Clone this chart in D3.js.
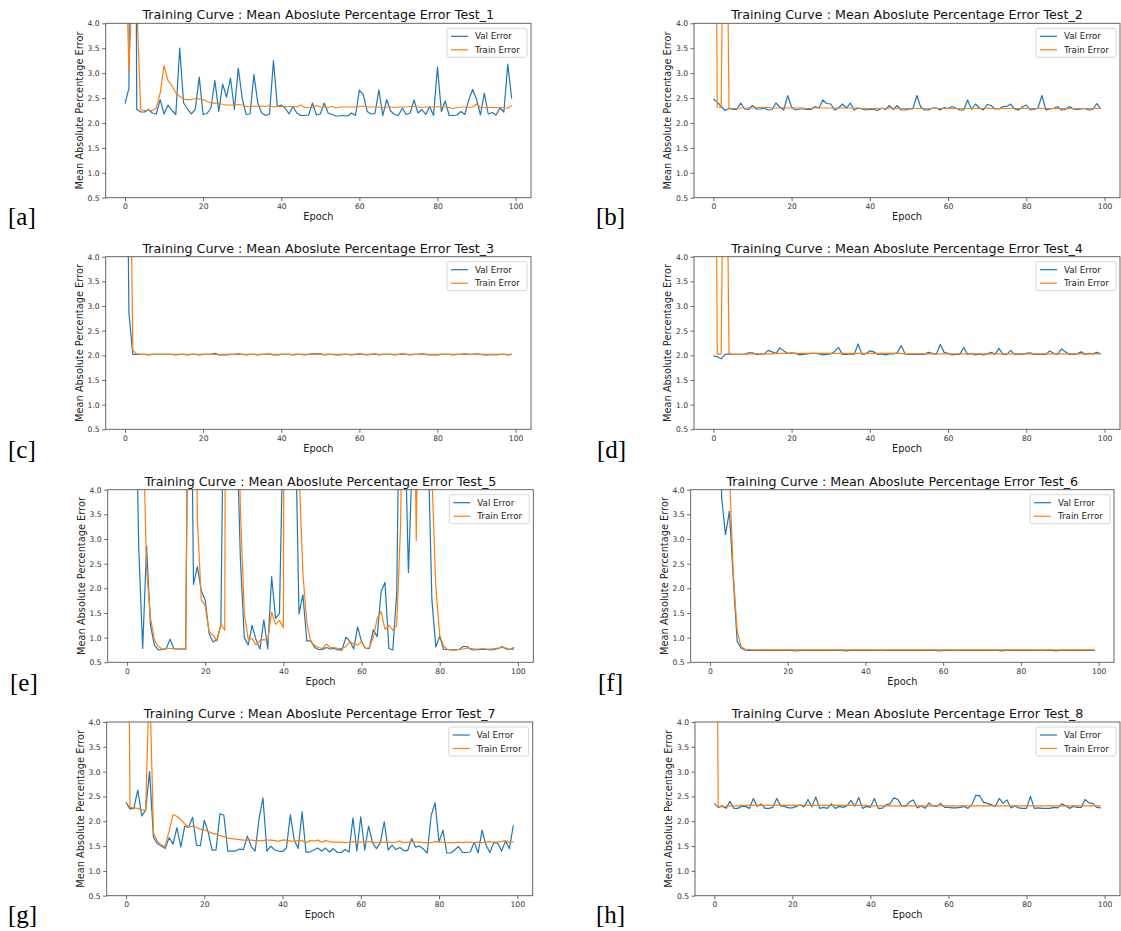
<!DOCTYPE html>
<html>
<head>
<meta charset="utf-8">
<script src="https://cdn.jsdelivr.net/npm/d3@7"></script>
<style>
  body { margin: 0; background: #fff; }
  svg { display: block; font-family: 'DejaVu Sans', sans-serif; }
</style>
</head>
<body>
<svg id="chart" width="1121" height="931"></svg>
<script>
const tags = ['[a]', '[b]', '[c]', '[d]', '[e]', '[f]', '[g]', '[h]'];
const titles = [1, 2, 3, 4, 5, 6, 7, 8].map((n) => 'Training Curve : Mean Aboslute Percentage Error Test_' + n);
const xTicks = [0, 20, 40, 60, 80, 100];
const yTicks = [0.5, 1.0, 1.5, 2.0, 2.5, 3.0, 3.5, 4.0];
const seriesNames = ['Val Error', 'Train Error'];

const valA = [2.39, 2.7, 20, 2.28, 2.22, 2.22, 2.27, 2.2, 2.18, 2.47,
  2.18, 2.36, 2.25, 2.17, 3.5, 2.4, 2.28, 2.18, 2.28, 2.92,
  2.17, 2.19, 2.3, 2.85, 2.23, 2.78, 2.52, 2.9, 2.27, 3.1,
  2.5, 2.17, 2.18, 2.97, 2.4, 2.2, 2.15, 2.18, 3.25, 2.33,
  2.36, 2.3, 2.18, 2.33, 2.2, 2.15, 2.15, 2.16, 2.4, 2.16,
  2.18, 2.4, 2.2, 2.17, 2.14, 2.14, 2.15, 2.14, 2.2, 2.15,
  2.66, 2.57, 2.23, 2.18, 2.19, 2.66, 2.15, 2.47, 2.24, 2.17,
  2.15, 2.3, 2.17, 2.2, 2.46, 2.2, 2.27, 2.17, 2.33, 2.15,
  3.12, 2.23, 2.44, 2.15, 2.15, 2.16, 2.23, 2.17, 2.46, 2.67,
  2.48, 2.16, 2.6, 2.18, 2.21, 2.16, 2.3, 2.22, 3.18, 2.49];
const trainA = [6, 3.05, 5, 4.4, 2.27, 2.25, 2.25, 2.25, 2.3, 2.6,
  3.15, 2.85, 2.75, 2.6, 2.53, 2.48, 2.47, 2.47, 2.49, 2.48,
  2.47, 2.43, 2.4, 2.4, 2.4, 2.37, 2.36, 2.36, 2.36, 2.37,
  2.36, 2.33, 2.33, 2.34, 2.33, 2.34, 2.33, 2.35, 2.32, 2.33,
  2.33, 2.33, 2.33, 2.33, 2.32, 2.36, 2.31, 2.31, 2.31, 2.35,
  2.32, 2.32, 2.31, 2.33, 2.3, 2.32, 2.32, 2.32, 2.32, 2.32,
  2.33, 2.34, 2.32, 2.32, 2.32, 2.32, 2.31, 2.32, 2.32, 2.31,
  2.32, 2.32, 2.32, 2.33, 2.33, 2.32, 2.31, 2.32, 2.32, 2.32,
  2.33, 2.32, 2.32, 2.31, 2.29, 2.31, 2.32, 2.32, 2.31, 2.32,
  2.38, 2.31, 2.31, 2.31, 2.31, 2.31, 2.31, 2.3, 2.3, 2.35];

const valB = [2.48, 2.42, 2.33, 2.25, 2.29, 2.27, 2.27, 2.4, 2.28, 2.27,
  2.35, 2.28, 2.28, 2.3, 2.26, 2.27, 2.4, 2.32, 2.26, 2.55,
  2.32, 2.26, 2.28, 2.28, 2.27, 2.27, 2.33, 2.3, 2.46, 2.39,
  2.38, 2.26, 2.3, 2.38, 2.3, 2.4, 2.26, 2.3, 2.28, 2.26,
  2.27, 2.27, 2.25, 2.3, 2.27, 2.35, 2.27, 2.35, 2.26, 2.26,
  2.28, 2.28, 2.55, 2.32, 2.26, 2.26, 2.3, 2.3, 2.26, 2.31,
  2.29, 2.33, 2.3, 2.26, 2.26, 2.46, 2.27, 2.38, 2.3, 2.26,
  2.37, 2.35, 2.28, 2.28, 2.33, 2.33, 2.38, 2.28, 2.26, 2.32,
  2.36, 2.26, 2.27, 2.3, 2.55, 2.26, 2.28, 2.29, 2.33, 2.26,
  2.27, 2.33, 2.28, 2.27, 2.28, 2.29, 2.26, 2.27, 2.39, 2.29];
const trainB = [14, 2.32, 2.31, 10, 2.3, 2.29, 2.29, 2.3, 2.3, 2.3,
  2.3, 2.31, 2.31, 2.31, 2.31, 2.3, 2.3, 2.3, 2.31, 2.3,
  2.3, 2.3, 2.3, 2.3, 2.29, 2.29, 2.3, 2.3, 2.3, 2.3,
  2.3, 2.3, 2.3, 2.3, 2.3, 2.3, 2.3, 2.3, 2.29, 2.29,
  2.29, 2.29, 2.29, 2.29, 2.29, 2.3, 2.29, 2.29, 2.29, 2.29,
  2.29, 2.29, 2.29, 2.29, 2.29, 2.29, 2.29, 2.29, 2.29, 2.29,
  2.29, 2.29, 2.29, 2.29, 2.29, 2.29, 2.29, 2.29, 2.29, 2.29,
  2.3, 2.29, 2.29, 2.29, 2.29, 2.29, 2.29, 2.29, 2.29, 2.29,
  2.29, 2.29, 2.29, 2.29, 2.29, 2.29, 2.29, 2.29, 2.29, 2.29,
  2.29, 2.29, 2.29, 2.29, 2.29, 2.29, 2.29, 2.29, 2.29, 2.29];

const valC = [10.5, 2.85, 2.02, 2.02, 2.02, 2.02, 2.01, 2.02, 2.02, 2.02,
  2.02, 2.02, 2.02, 2.01, 2.02, 2.02, 2.01, 2.02, 2.02, 2.01,
  2.02, 2.02, 2.02, 2.04, 2.01, 2.01, 2.01, 2.02, 2.02, 2.03,
  2.02, 2.01, 2.02, 2.02, 2.01, 2.02, 2.02, 2.03, 2.01, 2.01,
  2.02, 2.02, 2.02, 2.01, 2.02, 2.02, 2.01, 2.02, 2.03, 2.03,
  2.03, 2.01, 2.02, 2.02, 2.01, 2.01, 2.02, 2.02, 2.01, 2.02,
  2.03, 2.02, 2.01, 2.02, 2.03, 2.01, 2.02, 2.02, 2.02, 2.01,
  2.02, 2.03, 2.02, 2.01, 2.02, 2.02, 2.03, 2.02, 2.01, 2.01,
  2.01, 2.02, 2.02, 2.02, 2.01, 2.02, 2.02, 2.03, 2.02, 2.02,
  2.03, 2.02, 2.01, 2.01, 2.02, 2.01, 2.02, 2.02, 2.01, 2.02];
const trainC = [10, 8.4, 2.1, 2.03, 2.02, 2.02, 2.02, 2.02, 2.02, 2.02,
  2.02, 2.02, 2.02, 2.02, 2.02, 2.02, 2.02, 2.02, 2.02, 2.02,
  2.02, 2.02, 2.02, 2.02, 2.02, 2.02, 2.02, 2.02, 2.02, 2.02,
  2.02, 2.02, 2.02, 2.02, 2.02, 2.02, 2.02, 2.02, 2.02, 2.02,
  2.02, 2.02, 2.02, 2.02, 2.02, 2.02, 2.02, 2.02, 2.02, 2.02,
  2.02, 2.02, 2.02, 2.02, 2.02, 2.02, 2.02, 2.02, 2.02, 2.02,
  2.02, 2.02, 2.02, 2.02, 2.02, 2.02, 2.02, 2.02, 2.02, 2.02,
  2.02, 2.02, 2.02, 2.02, 2.02, 2.02, 2.02, 2.02, 2.02, 2.02,
  2.02, 2.02, 2.02, 2.02, 2.02, 2.02, 2.02, 2.02, 2.02, 2.02,
  2.02, 2.02, 2.02, 2.02, 2.02, 2.02, 2.02, 2.02, 2.02, 2.02];

const valD = [1.99, 1.97, 1.93, 2.02, 2.03, 2.02, 2.02, 2.02, 2.02, 2.05,
  2.05, 2.02, 2.02, 2.03, 2.1, 2.07, 2.04, 2.15, 2.09, 2.04,
  2.05, 2.04, 2.01, 2.02, 2.03, 2.04, 2.04, 2.03, 2.01, 2.02,
  2.03, 2.08, 2.16, 2.02, 2.02, 2.03, 2.02, 2.23, 2.02, 2.03,
  2.09, 2.07, 2.02, 2.03, 2.01, 2.03, 2.03, 2.05, 2.2, 2.03,
  2.02, 2.02, 2.02, 2.02, 2.02, 2.06, 2.04, 2.02, 2.22, 2.06,
  2.04, 2.01, 2.02, 2.02, 2.16, 2.02, 2.04, 2.01, 2.03, 2.01,
  2.03, 2.06, 2.02, 2.14, 2.02, 2.02, 2.1, 2.02, 2.03, 2.02,
  2.04, 2.05, 2.02, 2.02, 2.02, 2.02, 2.09, 2.04, 2.02, 2.13,
  2.07, 2.02, 2.02, 2.03, 2.07, 2.02, 2.04, 2.03, 2.06, 2.03];
const trainD = [14, 2.02, 2.03, 10, 2.03, 2.02, 2.02, 2.02, 2.02, 2.03,
  2.03, 2.03, 2.03, 2.03, 2.03, 2.03, 2.04, 2.04, 2.04, 2.04,
  2.04, 2.04, 2.04, 2.04, 2.04, 2.04, 2.04, 2.04, 2.04, 2.04,
  2.04, 2.04, 2.04, 2.04, 2.04, 2.04, 2.04, 2.04, 2.04, 2.04,
  2.04, 2.04, 2.04, 2.04, 2.04, 2.04, 2.04, 2.04, 2.04, 2.03,
  2.03, 2.03, 2.03, 2.03, 2.03, 2.03, 2.03, 2.03, 2.03, 2.03,
  2.03, 2.03, 2.03, 2.03, 2.03, 2.03, 2.03, 2.03, 2.03, 2.03,
  2.03, 2.03, 2.03, 2.03, 2.03, 2.03, 2.03, 2.03, 2.03, 2.03,
  2.03, 2.03, 2.03, 2.03, 2.03, 2.03, 2.03, 2.03, 2.03, 2.03,
  2.03, 2.03, 2.03, 2.03, 2.03, 2.03, 2.03, 2.03, 2.03, 2.03];

const valE = [7, 7, 7, 2.8, 0.78, 2.85, 1.25, 0.85, 0.75, 0.76,
  0.77, 0.97, 0.77, 0.77, 0.77, 0.77, 10, 2.08, 2.44, 1.95,
  1.76, 1.08, 0.91, 0.96, 1.25, 8, 10, 10, 5.5, 2.6,
  1.0, 0.85, 1.25, 0.96, 0.77, 1.36, 0.77, 2.24, 1.39, 1.49,
  5.5, 10, 10, 5.7, 1.48, 1.87, 0.93, 0.94, 0.8, 0.76,
  0.76, 0.8, 0.77, 0.78, 0.75, 0.75, 1.01, 0.93, 0.77, 1.22,
  0.92, 0.78, 0.78, 1.16, 1.02, 1.93, 2.12, 0.78, 0.75, 1.9,
  8, 5.6, 2.32, 4.7, 10, 10, 10, 5, 1.77, 0.81,
  1.03, 0.76, 0.76, 0.75, 0.75, 0.76, 0.82, 0.82, 0.76, 0.75,
  0.76, 0.76, 0.76, 0.75, 0.76, 0.78, 0.82, 0.77, 0.76, 0.8];
const trainE = [10, 10, 10, 10, 5.6, 2.4, 1.4, 0.95, 0.82, 0.77,
  0.78, 0.78, 0.78, 0.77, 0.77, 0.76, 10, 10, 3.4, 1.76,
  1.65, 1.12, 1.05, 0.93, 1.27, 1.15, 30, 10, 8, 3.6,
  1.5, 0.97, 0.98, 0.85, 0.95, 0.96, 0.95, 1.52, 1.27, 1.35,
  1.2, 30, 10, 10, 4.4, 2.3, 1.3, 0.92, 0.84, 0.8,
  0.78, 0.87, 0.8, 0.8, 0.78, 0.78, 0.82, 0.92, 0.87, 0.85,
  0.92, 0.78, 0.8, 1.0, 1.39, 1.53, 1.17, 1.25, 1.15, 1.25,
  3.3, 9, 10, 10, 2.97, 10, 10, 10, 4.3, 2.05,
  1.05, 0.83, 0.76, 0.75, 0.75, 0.76, 0.77, 0.79, 0.78, 0.77,
  0.77, 0.78, 0.77, 0.77, 0.78, 0.79, 0.8, 0.79, 0.76, 0.76];

const valF = [12, 12, 12, 3.85, 3.09, 3.56, 2.2, 0.93, 0.79, 0.75,
  0.74, 0.74, 0.74, 0.74, 0.74, 0.74, 0.74, 0.74, 0.74, 0.74,
  0.74, 0.74, 0.73, 0.74, 0.74, 0.74, 0.74, 0.74, 0.74, 0.74,
  0.74, 0.74, 0.74, 0.74, 0.74, 0.73, 0.74, 0.74, 0.74, 0.74,
  0.74, 0.74, 0.74, 0.74, 0.75, 0.74, 0.74, 0.74, 0.74, 0.74,
  0.74, 0.74, 0.74, 0.74, 0.74, 0.74, 0.74, 0.74, 0.74, 0.73,
  0.74, 0.74, 0.74, 0.75, 0.74, 0.74, 0.74, 0.74, 0.74, 0.74,
  0.74, 0.74, 0.74, 0.74, 0.74, 0.73, 0.74, 0.74, 0.74, 0.74,
  0.74, 0.74, 0.74, 0.74, 0.74, 0.75, 0.74, 0.74, 0.74, 0.73,
  0.74, 0.74, 0.74, 0.74, 0.74, 0.74, 0.74, 0.74, 0.74, 0.74];
const trainF = [12, 12, 12, 12, 12, 4.4, 2.3, 1.15, 0.82, 0.77,
  0.76, 0.75, 0.75, 0.75, 0.75, 0.75, 0.75, 0.75, 0.75, 0.75,
  0.75, 0.75, 0.75, 0.75, 0.75, 0.75, 0.75, 0.75, 0.75, 0.75,
  0.75, 0.75, 0.75, 0.75, 0.75, 0.75, 0.75, 0.75, 0.75, 0.75,
  0.75, 0.75, 0.75, 0.75, 0.75, 0.75, 0.75, 0.75, 0.75, 0.75,
  0.75, 0.75, 0.75, 0.75, 0.75, 0.75, 0.75, 0.75, 0.75, 0.75,
  0.75, 0.75, 0.75, 0.75, 0.75, 0.75, 0.75, 0.75, 0.75, 0.75,
  0.75, 0.75, 0.75, 0.75, 0.75, 0.75, 0.75, 0.75, 0.75, 0.75,
  0.75, 0.75, 0.75, 0.75, 0.75, 0.75, 0.75, 0.75, 0.75, 0.75,
  0.75, 0.75, 0.75, 0.75, 0.75, 0.75, 0.75, 0.75, 0.75, 0.75];

const valG = [2.38, 2.25, 2.26, 2.63, 2.11, 2.22, 3.0, 1.68, 1.55, 1.5,
  1.45, 1.67, 1.54, 1.87, 1.48, 1.9, 1.88, 2.08, 1.52, 1.51,
  2.02, 1.78, 1.42, 1.42, 2.15, 2.12, 1.4, 1.4, 1.4, 1.44,
  1.43, 1.7, 1.49, 1.4, 2.05, 2.47, 1.4, 1.5, 1.42, 1.4,
  1.39, 1.46, 2.13, 1.62, 1.45, 2.19, 1.38, 1.38, 1.42, 1.46,
  1.4, 1.46, 1.38, 1.45, 1.37, 1.37, 1.43, 1.38, 2.07, 1.4,
  2.09, 1.42, 1.9, 1.57, 1.45, 1.57, 1.99, 1.42, 1.52, 1.43,
  1.47, 1.41, 1.41, 1.65, 1.48, 1.5, 1.44, 1.36, 2.12, 2.37,
  1.58, 1.82, 1.36, 1.36, 1.42, 1.49, 1.37, 1.37, 1.38, 1.58,
  1.36, 1.82, 1.52, 1.37, 1.57, 1.56, 1.4, 1.6, 1.45, 1.92];
const trainG = [14, 2.28, 2.27, 2.26, 2.23, 2.22, 5, 1.77, 1.6, 1.52,
  1.5, 1.8, 2.13, 2.1, 2.03, 1.95, 1.88, 1.9, 1.88, 1.84,
  1.83, 1.79, 1.76, 1.74, 1.71, 1.69, 1.66, 1.65, 1.64, 1.63,
  1.62, 1.62, 1.62, 1.61, 1.61, 1.61, 1.62, 1.62, 1.61, 1.6,
  1.62, 1.62, 1.6, 1.6, 1.61, 1.61, 1.57, 1.61, 1.6, 1.62,
  1.58, 1.61, 1.59, 1.58, 1.58, 1.58, 1.57, 1.58, 1.59, 1.58,
  1.58, 1.58, 1.59, 1.58, 1.57, 1.58, 1.58, 1.58, 1.57, 1.58,
  1.6, 1.57, 1.58, 1.59, 1.58, 1.58, 1.57, 1.57, 1.57, 1.59,
  1.58, 1.58, 1.57, 1.57, 1.57, 1.58, 1.57, 1.58, 1.58, 1.57,
  1.58, 1.57, 1.58, 1.59, 1.58, 1.58, 1.59, 1.61, 1.57, 1.59];

const valH = [2.36, 2.28, 2.31, 2.26, 2.4, 2.26, 2.26, 2.3, 2.3, 2.26,
  2.46, 2.3, 2.35, 2.26, 2.26, 2.28, 2.46, 2.31, 2.3, 2.27,
  2.27, 2.3, 2.33, 2.29, 2.44, 2.29, 2.49, 2.26, 2.28, 2.26,
  2.35, 2.26, 2.3, 2.28, 2.31, 2.42, 2.3, 2.48, 2.26, 2.3,
  2.28, 2.46, 2.26, 2.26, 2.33, 2.35, 2.47, 2.44, 2.31, 2.3,
  2.39, 2.43, 2.27, 2.31, 2.26, 2.37, 2.31, 2.3, 2.36, 2.28,
  2.28, 2.27, 2.27, 2.28, 2.3, 2.26, 2.33, 2.52, 2.51, 2.38,
  2.36, 2.33, 2.3, 2.46, 2.36, 2.43, 2.27, 2.31, 2.27, 2.26,
  2.26, 2.5, 2.26, 2.27, 2.26, 2.26, 2.26, 2.28, 2.27, 2.35,
  2.31, 2.26, 2.3, 2.28, 2.28, 2.44, 2.37, 2.36, 2.28, 2.27];
const trainH = [14, 2.3, 2.29, 2.3, 2.31, 2.31, 2.31, 2.32, 2.32, 2.32,
  2.32, 2.32, 2.32, 2.32, 2.32, 2.32, 2.32, 2.32, 2.32, 2.32,
  2.32, 2.32, 2.32, 2.32, 2.32, 2.32, 2.32, 2.32, 2.32, 2.32,
  2.32, 2.32, 2.32, 2.32, 2.32, 2.32, 2.32, 2.32, 2.32, 2.32,
  2.31, 2.31, 2.31, 2.31, 2.31, 2.31, 2.31, 2.31, 2.31, 2.31,
  2.31, 2.31, 2.31, 2.31, 2.31, 2.31, 2.31, 2.31, 2.31, 2.31,
  2.31, 2.31, 2.31, 2.31, 2.31, 2.31, 2.31, 2.31, 2.31, 2.31,
  2.31, 2.31, 2.31, 2.31, 2.31, 2.31, 2.31, 2.31, 2.31, 2.31,
  2.31, 2.31, 2.31, 2.31, 2.31, 2.31, 2.31, 2.31, 2.31, 2.31,
  2.31, 2.31, 2.31, 2.31, 2.31, 2.31, 2.31, 2.31, 2.31, 2.31];

const valSeries = [valA, valB, valC, valD, valE, valF, valG, valH];
const trainSeries = [trainA, trainB, trainC, trainD, trainE, trainF, trainG, trainH];

// axes frames [left, top, right, bottom] and tag positions
const frames = [
  [105.7, 23.3, 531, 197.7], [694, 23.3, 1120, 197.7],
  [105.7, 256.7, 531, 429.3], [694, 256.7, 1120, 429.3],
  [107.7, 489.7, 533.3, 662.3], [690.7, 489.7, 1114, 662.3],
  [106.7, 722, 532.7, 895.7], [695, 722, 1120, 895.7]
];
const tagXY = [[8, 225], [596, 225], [8, 458], [597, 458],
               [10, 691], [598, 691], [8, 923], [596, 923]];

const colors = ['#1f77b4', '#ff7f0e'];
const svg = d3.select('#chart');

frames.forEach((f, k) => {
  const [x0, y0, x1, y1] = f,
        w = x1 - x0,
        h = y1 - y0;

  const x = d3.scaleLinear().domain([-4.95, 103.95]).range([0, w]),
        y = d3.scaleLinear().domain([0.5, 4.0]).range([h, 0]);

  const g = svg.append('g').attr('transform', `translate(${x0},${y0})`);

  g.append('clipPath')
      .attr('id', 'clip' + k)
    .append('rect')
      .attr('width', w)
      .attr('height', h);

  const line = d3.line()
    .x((d, i) => x(i))
    .y((d) => y(d));

  const plot = g.append('g').attr('clip-path', `url(#clip${k})`);
  [valSeries[k], trainSeries[k]].forEach((s, j) => {
    plot.append('path')
      .datum(s)
      .attr('d', line)
      .attr('fill', 'none')
      .attr('stroke', colors[j])
      .attr('stroke-width', 1.2)
      .attr('stroke-linejoin', 'round');
  });

  const xAxis = g.append('g')
    .attr('transform', `translate(0,${h})`)
    .call(d3.axisBottom(x).tickValues(xTicks).tickSize(3.5).tickPadding(2.5));
  const yAxis = g.append('g')
    .call(d3.axisLeft(y).tickValues(yTicks).tickFormat(d3.format('.1f')).tickSize(3.5).tickPadding(2.5));

  [xAxis, yAxis].forEach((a) => {
    a.select('.domain').remove();
    a.selectAll('line').attr('stroke', '#444').attr('stroke-width', 0.8);
    a.selectAll('text')
      .attr('fill', '#333')
      .style('font-size', '7.6px')
      .style('font-family', "'DejaVu Sans', sans-serif");
  });

  g.append('rect')
    .attr('width', w)
    .attr('height', h)
    .attr('fill', 'none')
    .attr('stroke', '#555')
    .attr('stroke-width', 0.9);

  g.append('text')
    .attr('x', w / 2)
    .attr('y', -4)
    .attr('text-anchor', 'middle')
    .style('font-size', '12.7px')
    .attr('fill', '#111')
    .text(titles[k]);

  g.append('text')
    .attr('x', w / 2)
    .attr('y', h + 22.5)
    .attr('text-anchor', 'middle')
    .style('font-size', '9.8px')
    .attr('fill', '#222')
    .text('Epoch');

  g.append('text')
    .attr('transform', `translate(${-23},${h / 2}) rotate(-90)`)
    .attr('text-anchor', 'middle')
    .style('font-size', '9.8px')
    .attr('fill', '#222')
    .text('Mean Absolute Percentage Error');

  // legend, upper right
  const lg = g.append('g').attr('transform', `translate(${w - 84},5)`);
  lg.append('rect')
    .attr('width', 80)
    .attr('height', 29)
    .attr('rx', 2)
    .attr('fill', '#fff')
    .attr('fill-opacity', 0.8)
    .attr('stroke', '#ccc')
    .attr('stroke-width', 0.8);
  seriesNames.forEach((name, j) => {
    const yy = 8 + j * 13.5;
    lg.append('line')
      .attr('x1', 4).attr('x2', 21)
      .attr('y1', yy).attr('y2', yy)
      .attr('stroke', colors[j])
      .attr('stroke-width', 1.2);
    lg.append('text')
      .attr('x', 28)
      .attr('y', yy + 3.2)
      .style('font-size', '8.7px')
      .attr('fill', '#222')
      .text(name);
  });

  svg.append('text')
    .attr('x', tagXY[k][0])
    .attr('y', tagXY[k][1])
    .style('font-family', "'Liberation Serif', serif")
    .style('font-size', '25px')
    .attr('fill', '#000')
    .text(tags[k]);
});
</script>
</body>
</html>
